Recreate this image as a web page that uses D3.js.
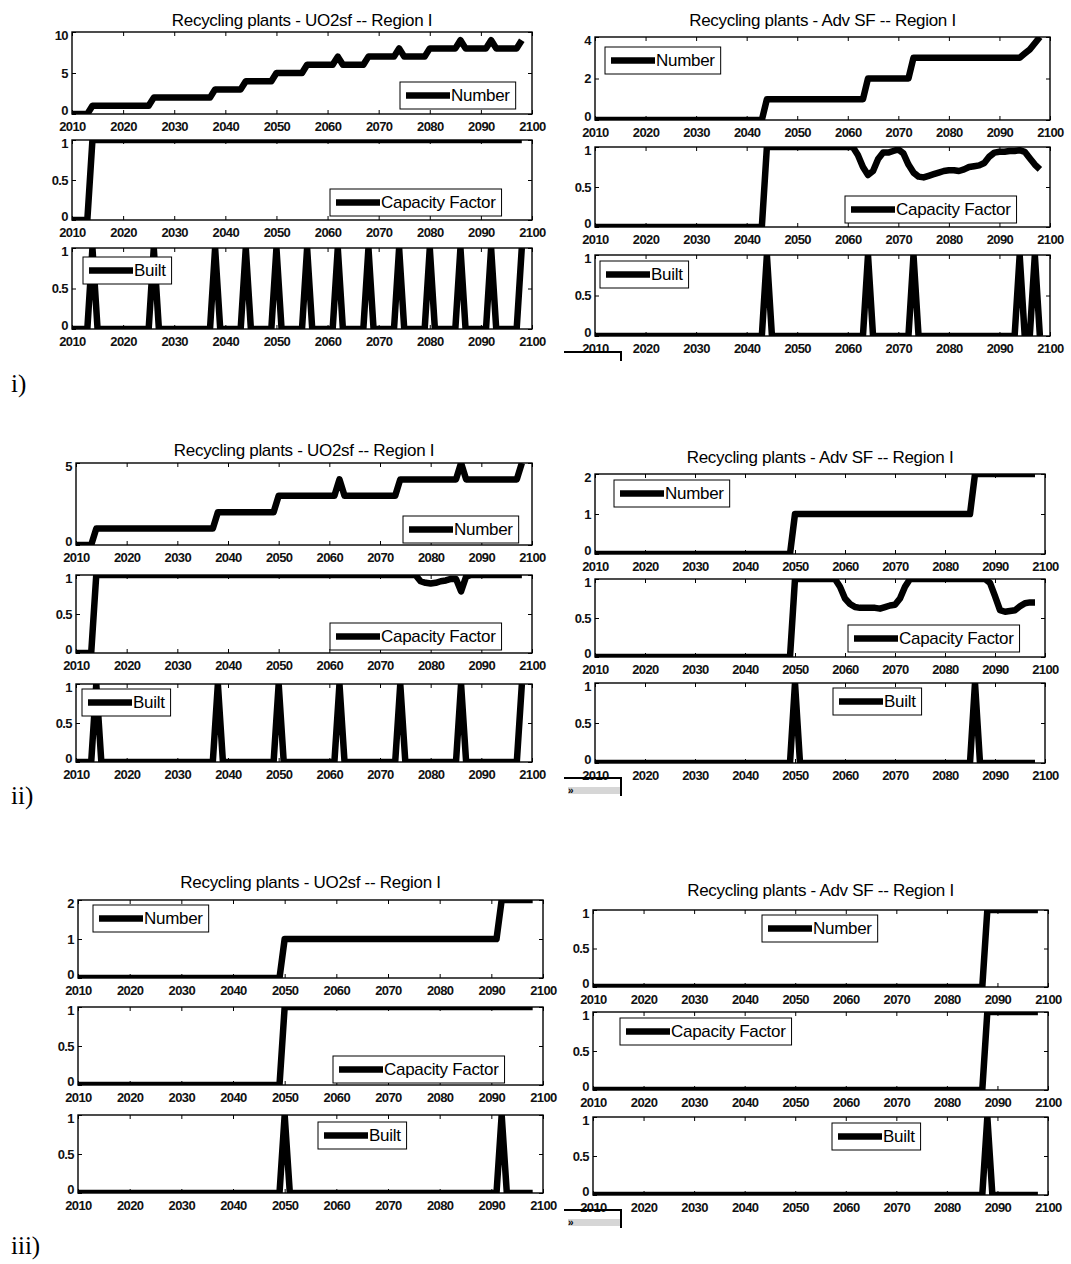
<!DOCTYPE html>
<html lang="en">
<head>
    <meta charset="UTF-8">
    <title>Recycling plants - Region I</title>
    <style>
        body {
            margin: 0;
            padding: 0;
            overflow: hidden;
            background-color: #ffffff;
        }

        svg {
            display: block;
        }

        .tick text {
            font-family: "Liberation Sans", Arial, sans-serif;
            font-size: 13px;
            font-weight: bold;
            letter-spacing: -0.6px;
            fill: #111;
        }

        .tick line {
            stroke: #000;
        }
    </style>
</head>
<body>
    <script src="https://d3js.org/d3.v7.min.js"></script>
    <script>
        // ---- data (annual values, 2010 - 2098) ----
        const years = [
            2010, 2011, 2012, 2013, 2014, 2015, 2016, 2017, 2018, 2019,
            2020, 2021, 2022, 2023, 2024, 2025, 2026, 2027, 2028, 2029,
            2030, 2031, 2032, 2033, 2034, 2035, 2036, 2037, 2038, 2039,
            2040, 2041, 2042, 2043, 2044, 2045, 2046, 2047, 2048, 2049,
            2050, 2051, 2052, 2053, 2054, 2055, 2056, 2057, 2058, 2059,
            2060, 2061, 2062, 2063, 2064, 2065, 2066, 2067, 2068, 2069,
            2070, 2071, 2072, 2073, 2074, 2075, 2076, 2077, 2078, 2079,
            2080, 2081, 2082, 2083, 2084, 2085, 2086, 2087, 2088, 2089,
            2090, 2091, 2092, 2093, 2094, 2095, 2096, 2097, 2098
        ];

        // case i) UO2sf
        const iL_number = [
            0, 0, 0, 0, 1, 1, 1, 1, 1, 1,
            1, 1, 1, 1, 1, 1, 2, 2, 2, 2,
            2, 2, 2, 2, 2, 2, 2, 2, 3, 3,
            3, 3, 3, 3, 4, 4, 4, 4, 4, 4,
            5, 5, 5, 5, 5, 5, 6, 6, 6, 6,
            6, 6, 7, 6, 6, 6, 6, 6, 7, 7,
            7, 7, 7, 7, 8, 7, 7, 7, 7, 7,
            8, 8, 8, 8, 8, 8, 9, 8, 8, 8,
            8, 8, 9, 8, 8, 8, 8, 8, 9
        ];
        const iL_cf = [
            0, 0, 0, 0, 1, 1, 1, 1, 1, 1,
            1, 1, 1, 1, 1, 1, 1, 1, 1, 1,
            1, 1, 1, 1, 1, 1, 1, 1, 1, 1,
            1, 1, 1, 1, 1, 1, 1, 1, 1, 1,
            1, 1, 1, 1, 1, 1, 1, 1, 1, 1,
            1, 1, 1, 1, 1, 1, 1, 1, 1, 1,
            1, 1, 1, 1, 1, 1, 1, 1, 1, 1,
            1, 1, 1, 1, 1, 1, 1, 1, 1, 1,
            1, 1, 1, 1, 1, 1, 1, 1, 1
        ];
        const iL_built = [
            0, 0, 0, 0, 1, 0, 0, 0, 0, 0,
            0, 0, 0, 0, 0, 0, 1, 0, 0, 0,
            0, 0, 0, 0, 0, 0, 0, 0, 1, 0,
            0, 0, 0, 0, 1, 0, 0, 0, 0, 0,
            1, 0, 0, 0, 0, 0, 1, 0, 0, 0,
            0, 0, 1, 0, 0, 0, 0, 0, 1, 0,
            0, 0, 0, 0, 1, 0, 0, 0, 0, 0,
            1, 0, 0, 0, 0, 0, 1, 0, 0, 0,
            0, 0, 1, 0, 0, 0, 0, 0, 1
        ];

        // case i) Adv SF
        const iR_number = [
            0, 0, 0, 0, 0, 0, 0, 0, 0, 0,
            0, 0, 0, 0, 0, 0, 0, 0, 0, 0,
            0, 0, 0, 0, 0, 0, 0, 0, 0, 0,
            0, 0, 0, 0, 1, 1, 1, 1, 1, 1,
            1, 1, 1, 1, 1, 1, 1, 1, 1, 1,
            1, 1, 1, 1, 2, 2, 2, 2, 2, 2,
            2, 2, 2, 3, 3, 3, 3, 3, 3, 3,
            3, 3, 3, 3, 3, 3, 3, 3, 3, 3,
            3, 3, 3, 3, 3, 3.2, 3.4, 3.7, 4
        ];
        const iR_cf = [
            0, 0, 0, 0, 0, 0, 0, 0, 0, 0,
            0, 0, 0, 0, 0, 0, 0, 0, 0, 0,
            0, 0, 0, 0, 0, 0, 0, 0, 0, 0,
            0, 0, 0, 0, 1, 1, 1, 1, 1, 1,
            1, 1, 1, 1, 1, 1, 1, 1, 1, 1,
            1, 1, 0.9, 0.75, 0.65, 0.7, 0.85, 0.93, 0.93, 0.95,
            0.97, 0.92, 0.78, 0.68, 0.63, 0.62, 0.64, 0.66, 0.68, 0.7,
            0.71, 0.71, 0.7, 0.72, 0.75, 0.76, 0.77, 0.8, 0.88, 0.93,
            0.94, 0.94, 0.95, 0.95, 0.96, 0.94, 0.86, 0.78, 0.72
        ];
        const iR_built = [
            0, 0, 0, 0, 0, 0, 0, 0, 0, 0,
            0, 0, 0, 0, 0, 0, 0, 0, 0, 0,
            0, 0, 0, 0, 0, 0, 0, 0, 0, 0,
            0, 0, 0, 0, 1, 0, 0, 0, 0, 0,
            0, 0, 0, 0, 0, 0, 0, 0, 0, 0,
            0, 0, 0, 0, 1, 0, 0, 0, 0, 0,
            0, 0, 0, 1, 0, 0, 0, 0, 0, 0,
            0, 0, 0, 0, 0, 0, 0, 0, 0, 0,
            0, 0, 0, 0, 1, 0, 0, 1, 0
        ];

        // case ii) UO2sf
        const iiL_number = [
            0, 0, 0, 0, 1, 1, 1, 1, 1, 1,
            1, 1, 1, 1, 1, 1, 1, 1, 1, 1,
            1, 1, 1, 1, 1, 1, 1, 1, 2, 2,
            2, 2, 2, 2, 2, 2, 2, 2, 2, 2,
            3, 3, 3, 3, 3, 3, 3, 3, 3, 3,
            3, 3, 4, 3, 3, 3, 3, 3, 3, 3,
            3, 3, 3, 3, 4, 4, 4, 4, 4, 4,
            4, 4, 4, 4, 4, 4, 5, 4, 4, 4,
            4, 4, 4, 4, 4, 4, 4, 4, 5
        ];
        const iiL_cf = [
            0, 0, 0, 0, 1, 1, 1, 1, 1, 1,
            1, 1, 1, 1, 1, 1, 1, 1, 1, 1,
            1, 1, 1, 1, 1, 1, 1, 1, 1, 1,
            1, 1, 1, 1, 1, 1, 1, 1, 1, 1,
            1, 1, 1, 1, 1, 1, 1, 1, 1, 1,
            1, 1, 1, 1, 1, 1, 1, 1, 1, 1,
            1, 1, 1, 1, 1, 1, 1, 1, 0.92, 0.9,
            0.89, 0.9, 0.92, 0.93, 0.95, 0.95, 0.79, 0.98, 1, 1,
            1, 1, 1, 1, 1, 1, 1, 1, 1
        ];
        const iiL_built = [
            0, 0, 0, 0, 1, 0, 0, 0, 0, 0,
            0, 0, 0, 0, 0, 0, 0, 0, 0, 0,
            0, 0, 0, 0, 0, 0, 0, 0, 1, 0,
            0, 0, 0, 0, 0, 0, 0, 0, 0, 0,
            1, 0, 0, 0, 0, 0, 0, 0, 0, 0,
            0, 0, 1, 0, 0, 0, 0, 0, 0, 0,
            0, 0, 0, 0, 1, 0, 0, 0, 0, 0,
            0, 0, 0, 0, 0, 0, 1, 0, 0, 0,
            0, 0, 0, 0, 0, 0, 0, 0, 1
        ];

        // case ii) Adv SF
        const iiR_number = [
            0, 0, 0, 0, 0, 0, 0, 0, 0, 0,
            0, 0, 0, 0, 0, 0, 0, 0, 0, 0,
            0, 0, 0, 0, 0, 0, 0, 0, 0, 0,
            0, 0, 0, 0, 0, 0, 0, 0, 0, 0,
            1, 1, 1, 1, 1, 1, 1, 1, 1, 1,
            1, 1, 1, 1, 1, 1, 1, 1, 1, 1,
            1, 1, 1, 1, 1, 1, 1, 1, 1, 1,
            1, 1, 1, 1, 1, 1, 2, 2, 2, 2,
            2, 2, 2, 2, 2, 2, 2, 2, 2
        ];
        const iiR_cf = [
            0, 0, 0, 0, 0, 0, 0, 0, 0, 0,
            0, 0, 0, 0, 0, 0, 0, 0, 0, 0,
            0, 0, 0, 0, 0, 0, 0, 0, 0, 0,
            0, 0, 0, 0, 0, 0, 0, 0, 0, 0,
            1, 1, 1, 1, 1, 1, 1, 1, 1, 0.9,
            0.75, 0.68, 0.64, 0.63, 0.63, 0.63, 0.63, 0.62, 0.64, 0.66,
            0.67, 0.75, 0.9, 1, 1, 1, 1, 1, 1, 1,
            1, 1, 1, 1, 1, 1, 1, 1, 1, 0.95,
            0.78, 0.6, 0.58, 0.59, 0.6, 0.65, 0.69, 0.7, 0.7
        ];
        const iiR_built = [
            0, 0, 0, 0, 0, 0, 0, 0, 0, 0,
            0, 0, 0, 0, 0, 0, 0, 0, 0, 0,
            0, 0, 0, 0, 0, 0, 0, 0, 0, 0,
            0, 0, 0, 0, 0, 0, 0, 0, 0, 0,
            1, 0, 0, 0, 0, 0, 0, 0, 0, 0,
            0, 0, 0, 0, 0, 0, 0, 0, 0, 0,
            0, 0, 0, 0, 0, 0, 0, 0, 0, 0,
            0, 0, 0, 0, 0, 0, 1, 0, 0, 0,
            0, 0, 0, 0, 0, 0, 0, 0, 0
        ];

        // case iii) UO2sf
        const iiiL_number = [
            0, 0, 0, 0, 0, 0, 0, 0, 0, 0,
            0, 0, 0, 0, 0, 0, 0, 0, 0, 0,
            0, 0, 0, 0, 0, 0, 0, 0, 0, 0,
            0, 0, 0, 0, 0, 0, 0, 0, 0, 0,
            1, 1, 1, 1, 1, 1, 1, 1, 1, 1,
            1, 1, 1, 1, 1, 1, 1, 1, 1, 1,
            1, 1, 1, 1, 1, 1, 1, 1, 1, 1,
            1, 1, 1, 1, 1, 1, 1, 1, 1, 1,
            1, 1, 2, 2, 2, 2, 2, 2, 2
        ];
        const iiiL_cf = [
            0, 0, 0, 0, 0, 0, 0, 0, 0, 0,
            0, 0, 0, 0, 0, 0, 0, 0, 0, 0,
            0, 0, 0, 0, 0, 0, 0, 0, 0, 0,
            0, 0, 0, 0, 0, 0, 0, 0, 0, 0,
            1, 1, 1, 1, 1, 1, 1, 1, 1, 1,
            1, 1, 1, 1, 1, 1, 1, 1, 1, 1,
            1, 1, 1, 1, 1, 1, 1, 1, 1, 1,
            1, 1, 1, 1, 1, 1, 1, 1, 1, 1,
            1, 1, 1, 1, 1, 1, 1, 1, 1
        ];
        const iiiL_built = [
            0, 0, 0, 0, 0, 0, 0, 0, 0, 0,
            0, 0, 0, 0, 0, 0, 0, 0, 0, 0,
            0, 0, 0, 0, 0, 0, 0, 0, 0, 0,
            0, 0, 0, 0, 0, 0, 0, 0, 0, 0,
            1, 0, 0, 0, 0, 0, 0, 0, 0, 0,
            0, 0, 0, 0, 0, 0, 0, 0, 0, 0,
            0, 0, 0, 0, 0, 0, 0, 0, 0, 0,
            0, 0, 0, 0, 0, 0, 0, 0, 0, 0,
            0, 0, 1, 0, 0, 0, 0, 0, 0
        ];

        // case iii) Adv SF
        const iiiR_number = [
            0, 0, 0, 0, 0, 0, 0, 0, 0, 0,
            0, 0, 0, 0, 0, 0, 0, 0, 0, 0,
            0, 0, 0, 0, 0, 0, 0, 0, 0, 0,
            0, 0, 0, 0, 0, 0, 0, 0, 0, 0,
            0, 0, 0, 0, 0, 0, 0, 0, 0, 0,
            0, 0, 0, 0, 0, 0, 0, 0, 0, 0,
            0, 0, 0, 0, 0, 0, 0, 0, 0, 0,
            0, 0, 0, 0, 0, 0, 0, 0, 1, 1,
            1, 1, 1, 1, 1, 1, 1, 1, 1
        ];
        const iiiR_cf = [
            0, 0, 0, 0, 0, 0, 0, 0, 0, 0,
            0, 0, 0, 0, 0, 0, 0, 0, 0, 0,
            0, 0, 0, 0, 0, 0, 0, 0, 0, 0,
            0, 0, 0, 0, 0, 0, 0, 0, 0, 0,
            0, 0, 0, 0, 0, 0, 0, 0, 0, 0,
            0, 0, 0, 0, 0, 0, 0, 0, 0, 0,
            0, 0, 0, 0, 0, 0, 0, 0, 0, 0,
            0, 0, 0, 0, 0, 0, 0, 0, 1, 1,
            1, 1, 1, 1, 1, 1, 1, 1, 1
        ];
        const iiiR_built = [
            0, 0, 0, 0, 0, 0, 0, 0, 0, 0,
            0, 0, 0, 0, 0, 0, 0, 0, 0, 0,
            0, 0, 0, 0, 0, 0, 0, 0, 0, 0,
            0, 0, 0, 0, 0, 0, 0, 0, 0, 0,
            0, 0, 0, 0, 0, 0, 0, 0, 0, 0,
            0, 0, 0, 0, 0, 0, 0, 0, 0, 0,
            0, 0, 0, 0, 0, 0, 0, 0, 0, 0,
            0, 0, 0, 0, 0, 0, 0, 0, 1, 0,
            0, 0, 0, 0, 0, 0, 0, 0, 0
        ];

        // ---- tick labels ----
        const yearTicks = [2010, 2020, 2030, 2040, 2050, 2060, 2070, 2080, 2090, 2100];
        const unitTicks = [0, 0.5, 1];
        const iL_numberTicks = [0, 5, 10];
        const iR_numberTicks = [0, 2, 4];
        const iiL_numberTicks = [0, 5];
        const iiR_numberTicks = [0, 1, 2];
        const iiiL_numberTicks = [0, 1, 2];
        const iiiR_numberTicks = [0, 0.5, 1];

        const titleUO2 = 'Recycling plants - UO2sf -- Region I';
        const titleAdv = 'Recycling plants - Adv SF -- Region I';
        const caseLabels = ['i)', 'ii)', 'iii)'];

        // ---- layout (pixel placement of each figure) ----
        const groups = [
            {
                title: titleUO2, x0: 72, x1: 532, titleY: 20, panels: [
                    { top: 32, bottom: 114, values: iL_number, yMax: 10, ticks: iL_numberTicks, legend: 'Number', lx: 400, ly: 82 },
                    { top: 140, bottom: 220, values: iL_cf, yMax: 1, ticks: unitTicks, legend: 'Capacity Factor', lx: 330, ly: 189 },
                    { top: 248, bottom: 329, values: iL_built, yMax: 1, ticks: unitTicks, legend: 'Built', lx: 83, ly: 257 }
                ]
            },
            {
                title: titleAdv, x0: 595, x1: 1050, titleY: 20, panels: [
                    { top: 37, bottom: 120, values: iR_number, yMax: 4, ticks: iR_numberTicks, legend: 'Number', lx: 605, ly: 47 },
                    { top: 147, bottom: 227, values: iR_cf, yMax: 1, ticks: unitTicks, legend: 'Capacity Factor', lx: 845, ly: 196 },
                    { top: 255, bottom: 336, values: iR_built, yMax: 1, ticks: unitTicks, legend: 'Built', lx: 600, ly: 261 }
                ]
            },
            {
                title: titleUO2, x0: 76, x1: 532, titleY: 450, panels: [
                    { top: 463, bottom: 545, values: iiL_number, yMax: 5, ticks: iiL_numberTicks, legend: 'Number', lx: 403, ly: 516 },
                    { top: 575, bottom: 653, values: iiL_cf, yMax: 1, ticks: unitTicks, legend: 'Capacity Factor', lx: 330, ly: 623 },
                    { top: 684, bottom: 762, values: iiL_built, yMax: 1, ticks: unitTicks, legend: 'Built', lx: 82, ly: 689 }
                ]
            },
            {
                title: titleAdv, x0: 595, x1: 1045, titleY: 457, panels: [
                    { top: 474, bottom: 554, values: iiR_number, yMax: 2, ticks: iiR_numberTicks, legend: 'Number', lx: 614, ly: 480 },
                    { top: 579, bottom: 657, values: iiR_cf, yMax: 1, ticks: unitTicks, legend: 'Capacity Factor', lx: 848, ly: 625 },
                    { top: 683, bottom: 763, values: iiR_built, yMax: 1, ticks: unitTicks, legend: 'Built', lx: 833, ly: 688 }
                ]
            },
            {
                title: titleUO2, x0: 78, x1: 543, titleY: 882, panels: [
                    { top: 900, bottom: 978, values: iiiL_number, yMax: 2, ticks: iiiL_numberTicks, legend: 'Number', lx: 93, ly: 905 },
                    { top: 1007, bottom: 1085, values: iiiL_cf, yMax: 1, ticks: unitTicks, legend: 'Capacity Factor', lx: 333, ly: 1056 },
                    { top: 1115, bottom: 1193, values: iiiL_built, yMax: 1, ticks: unitTicks, legend: 'Built', lx: 318, ly: 1122 }
                ]
            },
            {
                title: titleAdv, x0: 593, x1: 1048, titleY: 890, panels: [
                    { top: 910, bottom: 987, values: iiiR_number, yMax: 1, ticks: iiiR_numberTicks, legend: 'Number', lx: 762, ly: 915 },
                    { top: 1012, bottom: 1090, values: iiiR_cf, yMax: 1, ticks: unitTicks, legend: 'Capacity Factor', lx: 620, ly: 1018 },
                    { top: 1117, bottom: 1195, values: iiiR_built, yMax: 1, ticks: unitTicks, legend: 'Built', lx: 832, ly: 1123 }
                ]
            }
        ];
        const caseLabelY = [392, 804, 1254];
        // the little toolbar scraps under the right-hand figures
        const scrapY = [352, 778, 1210];

        const width = 1071;
        const height = 1264;
        const sans = '"Liberation Sans", Arial, sans-serif';

        const svg = d3.select('body')
            .append('svg')
            .attr('width', width)
            .attr('height', height);

        const defs = svg.append('defs');
        let clipCount = 0;

        function drawPanel(group, p) {
            const g = svg.append('g');
            const x = d3.scaleLinear().domain([2010, 2100]).range([group.x0, group.x1]);
            const y = d3.scaleLinear().domain([0, p.yMax]).range([p.bottom, p.top]);

            if (p.values.length !== years.length) {
                throw new Error('series length mismatch: ' + p.legend);
            }

            const clipId = 'clip' + (clipCount++);
            defs.append('clipPath').attr('id', clipId)
                .append('rect')
                .attr('x', group.x0)
                .attr('y', p.top)
                .attr('width', group.x1 - group.x0)
                .attr('height', p.bottom - p.top);

            const line = d3.line()
                .x((d, i) => x(years[i]))
                .y(d => y(d));

            g.append('path')
                .datum(p.values)
                .attr('clip-path', `url(#${clipId})`)
                .attr('d', line)
                .attr('fill', 'none')
                .attr('stroke', '#000')
                .attr('stroke-width', 6.5)
                .attr('stroke-linejoin', 'round');

            // axes, ticks pointing inwards on all four sides
            g.append('g')
                .attr('transform', `translate(0,${p.bottom})`)
                .call(d3.axisBottom(x).tickValues(yearTicks).tickSize(-4).tickPadding(8).tickFormat(d3.format('d')))
                .call(a => a.select('.domain').remove());
            g.append('g')
                .attr('transform', `translate(0,${p.top})`)
                .call(d3.axisTop(x).tickValues(yearTicks).tickSize(-4).tickFormat(''))
                .call(a => a.select('.domain').remove());
            g.append('g')
                .attr('transform', `translate(${group.x0},0)`)
                .call(d3.axisLeft(y).tickValues(p.ticks).tickSize(-4).tickPadding(4).tickFormat(d => String(d)))
                .call(a => a.select('.domain').remove())
                // end labels sit just inside the axis span, clear of the year labels
                .call(a => a.selectAll('.tick text')
                    .attr('y', d => d === 0 ? -4 : (d === p.yMax ? 3 : 0)));
            g.append('g')
                .attr('transform', `translate(${group.x1},0)`)
                .call(d3.axisRight(y).tickValues(p.ticks).tickSize(-4).tickFormat(''))
                .call(a => a.select('.domain').remove());

            g.append('rect')
                .attr('x', group.x0)
                .attr('y', p.top)
                .attr('width', group.x1 - group.x0)
                .attr('height', p.bottom - p.top)
                .attr('fill', 'none')
                .attr('stroke', '#000')
                .attr('stroke-width', 1.4);

            // legend box
            const lg = g.append('g').attr('transform', `translate(${p.lx},${p.ly})`);
            const box = lg.append('rect')
                .attr('height', 27)
                .attr('fill', '#fff')
                .attr('stroke', '#000')
                .attr('stroke-width', 1);
            lg.append('line')
                .attr('x1', 6).attr('x2', 50)
                .attr('y1', 13.5).attr('y2', 13.5)
                .attr('stroke', '#000')
                .attr('stroke-width', 6.5);
            const txt = lg.append('text')
                .attr('x', 51)
                .attr('y', 13.5)
                .attr('dy', '0.35em')
                .attr('font-family', sans)
                .attr('font-size', 17)
                .attr('letter-spacing', '-0.3px')
                .text(p.legend);
            box.attr('width', 51 + txt.node().getComputedTextLength() + 6);
        }

        groups.forEach(group => {
            svg.append('text')
                .attr('x', (group.x0 + group.x1) / 2)
                .attr('y', group.titleY)
                .attr('dy', '0.35em')
                .attr('text-anchor', 'middle')
                .attr('font-family', sans)
                .attr('font-size', 17)
                .attr('letter-spacing', '-0.3px')
                .text(group.title);
            group.panels.forEach(p => drawPanel(group, p));
        });

        caseLabels.forEach((lab, i) => {
            svg.append('text')
                .attr('x', 11)
                .attr('y', caseLabelY[i])
                .attr('font-family', '"Liberation Serif", "Times New Roman", serif')
                .attr('font-size', 25)
                .text(lab);
        });

        scrapY.forEach((sy, i) => {
            const s = svg.append('g');
            s.append('path')
                .attr('d', `M564,${sy}H621V${sy + (i === 0 ? 9 : 18)}`)
                .attr('fill', 'none')
                .attr('stroke', '#000')
                .attr('stroke-width', 2);
            if (i > 0) {
                s.append('rect')
                    .attr('x', 568).attr('y', sy + 9)
                    .attr('width', 52).attr('height', 7)
                    .attr('fill', '#d6d6d6');
                s.append('text')
                    .attr('x', 568).attr('y', sy + 16)
                    .attr('font-family', sans)
                    .attr('font-size', 10)
                    .attr('font-weight', 'bold')
                    .text('\u00bb');
            }
        });
    </script>
</body>
</html>
